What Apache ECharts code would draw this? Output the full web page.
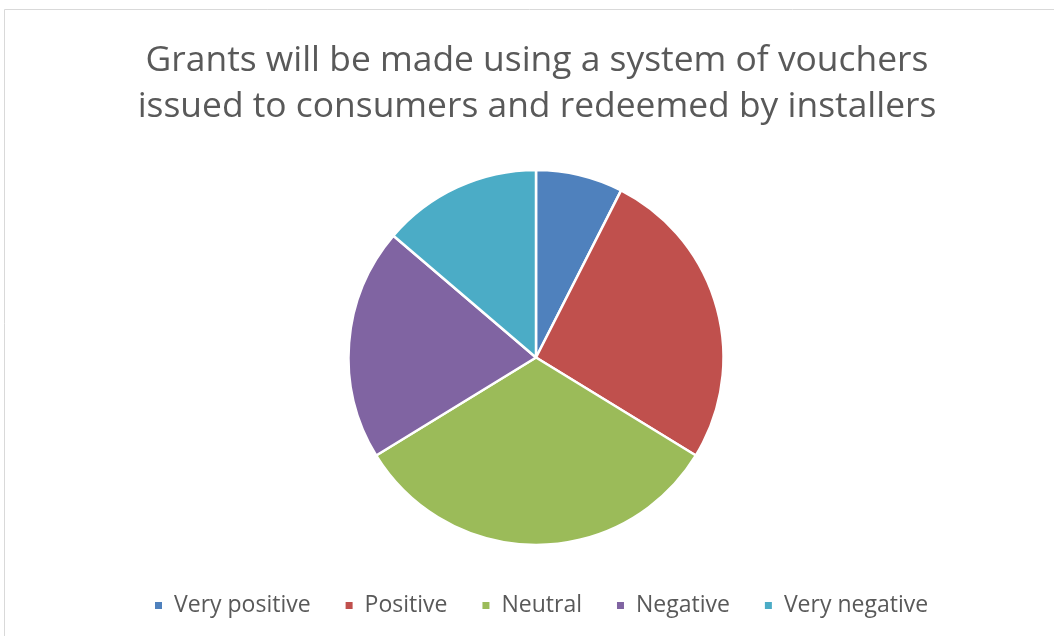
<!DOCTYPE html>
<html><head><meta charset="utf-8">
<script src="https://cdn.jsdelivr.net/npm/echarts@6/dist/echarts.min.js"></script>
<style>html,body{margin:0;padding:0;background:#fff}#c{width:1054px;height:636px}</style>
</head><body><div id="c"></div>
<script>
const titleText = "Grants will be made using a system of vouchers\nissued to consumers and redeemed by installers";
const categories = ["Very positive", "Positive", "Neutral", "Negative", "Very negative"];
const values = [6, 21, 26, 16, 11];
const colors = ["#4f81bd", "#c0504d", "#9bbb59", "#8064a2", "#4bacc6"];

const chart = echarts.init(document.getElementById('c'));
chart.setOption({
  animation: false,
  color: colors,
  graphic: [{type: 'rect', shape: {x: 4.5, y: 9.5, width: 1100, height: 700}, style: {fill: 'none', stroke: '#d9d9d9', lineWidth: 1}}],
  title: {
    text: titleText, left: 532, top: 33, textAlign: 'center',
    textStyle: {fontFamily: 'Open Sans', fontSize: 35.4, fontWeight: 'normal', color: '#595959', lineHeight: 46}
  },
  legend: {
    top: 589, left: 148, icon: 'rect', itemWidth: 9, itemHeight: 9, itemGap: 33,
    textStyle: {fontFamily: 'Open Sans', fontSize: 23, color: '#595959', padding: [0, 0, 0, 6]},
    data: categories
  },
  series: [{
    type: 'pie', center: [536, 357.5], radius: 187.5, startAngle: 90, clockwise: true,
    label: {show: false}, labelLine: {show: false},
    itemStyle: {borderColor: '#fff', borderWidth: 2.5},
    emphasis: {disabled: true},
    data: categories.map((c, i) => ({name: c, value: values[i]}))
  }]
});
</script></body></html>
